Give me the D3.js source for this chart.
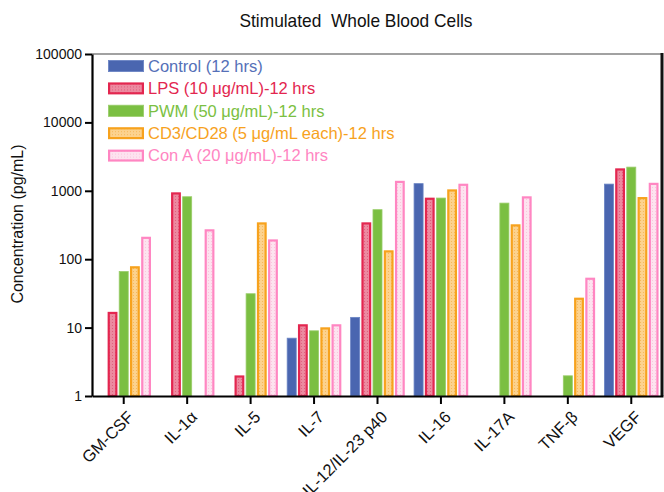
<!DOCTYPE html>
<html>
<head>
<meta charset="utf-8">
<script src="https://cdn.jsdelivr.net/npm/d3@7"></script>
<style>
  body { margin: 0; background: #fff; }
  svg { display: block; font-family: "Liberation Sans", Arial, sans-serif; }
</style>
</head>
<body>
<svg id="chart" width="664" height="492"></svg>
<script>
// data (pg/mL), null = no bar
const categories = ['GM-CSF', 'IL-1α', 'IL-5', 'IL-7', 'IL-12/IL-23 p40', 'IL-16', 'IL-17A', 'TNF-β', 'VEGF'];
const seriesNames = ['Control (12 hrs)', 'LPS (10 μg/mL)-12 hrs', 'PWM (50 μg/mL)-12 hrs',
  'CD3/CD28 (5 μg/mL each)-12 hrs', 'Con A (20 μg/mL)-12 hrs'];
const control = [null, null, null, 7.1, 14.3, 1290, null, null, 1270];
const lps = [17, 950, 2, 11.2, 346, 794, null, null, 2130];
const pwm = [67, 830, 31.7, 9.1, 537, 794, 670, 2, 2250];
const cd3cd28 = [79, null, 346, 10.1, 135, 1050, 324, 27.4, 811];
const conA = [213, 274, 195, 11.2, 1400, 1270, 831, 53.7, 1310];
const yTicks = [1, 10, 100, 1000, 10000, 100000];

const seriesValues = [control, lps, pwm, cd3cd28, conA];
const keys = ['control', 'lps', 'pwm', 'cd3', 'cona'];

// styles per series: stroke, fill, text colour
const styles = {
  control: { stroke: '#6a84c4', fill: '#4a66b0', text: '#5570b8', sw: 0.8 },
  lps:     { stroke: '#e3264f', fill: 'url(#dotRed)', text: '#e3264f', sw: 2.2 },
  pwm:     { stroke: '#9acd6a', fill: '#7bbf42', text: '#7bbf42', sw: 0.8 },
  cd3:     { stroke: '#f7a21d', fill: 'url(#dotOrange)', text: '#f7a21d', sw: 2.2 },
  cona:    { stroke: '#ff86c2', fill: 'url(#dotPink)', text: '#ff86c2', sw: 2.2 }
};

const plotLeft = 92, plotRight = 663, plotTop = 54, plotBottom = 396;

const svg = d3.select('#chart');

// dotted fills
const defs = svg.append('defs');
function dotPattern(id, bg, dot) {
  const p = defs.append('pattern').attr('id', id)
    .attr('patternUnits', 'userSpaceOnUse').attr('width', 3).attr('height', 3);
  p.append('rect').attr('width', 3).attr('height', 3).attr('fill', bg);
  p.append('rect').attr('x', 1).attr('y', 1).attr('width', 1).attr('height', 1).attr('fill', dot);
}
dotPattern('dotRed', '#ec8aa0', '#e0607e');
dotPattern('dotOrange', '#fcd28e', '#f6b85a');
dotPattern('dotPink', '#fde3ef', '#fbc6dd');

const x0 = d3.scaleBand().domain(categories).range([plotLeft, plotRight])
  .paddingInner(0.14).paddingOuter(0.07);
const x1 = d3.scaleBand().domain(keys).range([0, x0.bandwidth()]).paddingInner(0.12);
const y = d3.scaleLog().domain([1, 100000]).range([plotBottom, plotTop]);

// title
svg.append('text')
  .attr('x', 356).attr('y', 27)
  .attr('text-anchor', 'middle')
  .attr('font-size', 19)
  .attr('textLength', 233).attr('lengthAdjust', 'spacingAndGlyphs')
  .attr('fill', '#111')
  .style('white-space', 'pre')
  .text('Stimulated  Whole Blood Cells');

// frame top & right
svg.append('line').attr('x1', plotLeft).attr('x2', 662).attr('y1', plotTop).attr('y2', plotTop)
  .attr('stroke', '#444').attr('stroke-width', 1.2);
svg.append('line').attr('x1', 662).attr('x2', 662).attr('y1', plotTop - 1).attr('y2', plotBottom)
  .attr('stroke', '#111').attr('stroke-width', 3);

// bars
const rows = [];
categories.forEach((c, i) => {
  keys.forEach((k, j) => {
    if (seriesValues[j][i] != null) rows.push({ cat: c, key: k, value: seriesValues[j][i] });
  });
});

svg.append('g').selectAll('rect')
  .data(rows)
  .enter().append('rect')
  .attr('x', d => x0(d.cat) + x1(d.key) + styles[d.key].sw / 2)
  .attr('y', d => y(d.value) + styles[d.key].sw / 2)
  .attr('width', d => x1.bandwidth() - styles[d.key].sw)
  .attr('height', d => plotBottom - y(d.value) - styles[d.key].sw / 2)
  .attr('fill', d => styles[d.key].fill)
  .attr('stroke', d => styles[d.key].stroke)
  .attr('stroke-width', d => styles[d.key].sw);

// y axis
const yAxis = svg.append('g')
  .attr('transform', `translate(${plotLeft},0)`)
  .call(d3.axisLeft(y).tickValues(yTicks).tickFormat(d3.format('d')).tickSize(7).tickSizeOuter(0));
yAxis.select('.domain').attr('stroke', '#000').attr('stroke-width', 2.2);
yAxis.selectAll('.tick line').attr('stroke', '#000').attr('stroke-width', 2);
yAxis.selectAll('.tick text').attr('font-size', 14).attr('fill', '#111')
  .attr('font-family', '"Liberation Sans", Arial, sans-serif').attr('x', -10);

// x axis
const xAxis = svg.append('g')
  .attr('transform', `translate(0,${plotBottom})`)
  .call(d3.axisBottom(x0).tickSize(8).tickSizeOuter(0));
xAxis.select('.domain').attr('stroke', '#000').attr('stroke-width', 2.2);
xAxis.selectAll('.tick line').attr('stroke', '#000').attr('stroke-width', 2);
xAxis.selectAll('.tick text')
  .attr('font-size', 16.5).attr('fill', '#111')
  .attr('font-family', '"Liberation Sans", Arial, sans-serif')
  .style('text-anchor', 'end')
  .attr('x', 0).attr('y', 0).attr('dy', 0)
  .attr('transform', 'translate(11,22) rotate(-45)');

// y label
svg.append('text')
  .attr('transform', 'translate(23,224) rotate(-90)')
  .attr('text-anchor', 'middle')
  .attr('font-size', 16)
  .attr('fill', '#111')
  .text('Concentration (pg/mL)');

// legend
const legend = svg.append('g').selectAll('g')
  .data(keys)
  .enter().append('g')
  .attr('transform', (d, i) => `translate(108,${66 + i * 22.4})`);

legend.append('rect')
  .attr('x', d => styles[d].sw / 2)
  .attr('y', d => -6 + styles[d].sw / 2)
  .attr('width', d => 36 - styles[d].sw)
  .attr('height', d => 12 - styles[d].sw)
  .attr('fill', d => styles[d].fill)
  .attr('stroke', d => styles[d].stroke)
  .attr('stroke-width', d => styles[d].sw);

legend.append('text')
  .attr('x', 40)
  .attr('y', 0)
  .attr('dy', '0.35em')
  .attr('font-size', 16.5)
  .attr('fill', d => styles[d].text)
  .text((d, i) => seriesNames[i]);
</script>
</body>
</html>
